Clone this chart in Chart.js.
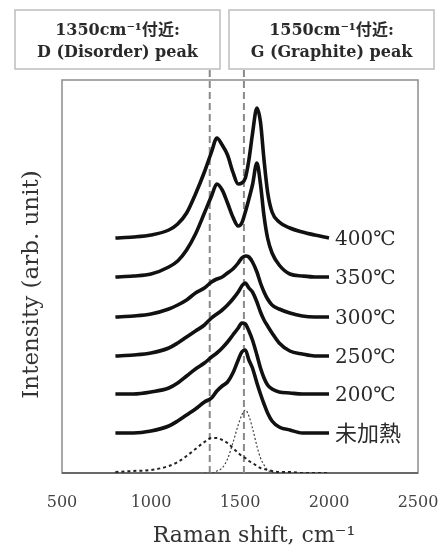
<!DOCTYPE html>
<html>
<head>
<meta charset="utf-8">
<script src="https://cdn.jsdelivr.net/npm/chart.js@4/dist/chart.umd.min.js"></script>
<style>
html,body{margin:0;padding:0;background:#fff;}
#wrap{width:448px;height:549px;}
</style>
</head>
<body>
<div id="wrap"><canvas id="c" width="448" height="549"></canvas></div>
<script>
// Raman shift (cm-1) sample positions
const ramanShift = [800, 900, 1000, 1100, 1150, 1200, 1250, 1300, 1340, 1370, 1400, 1430, 1460, 1490, 1510, 1530, 1550, 1570, 1595, 1615, 1635, 1655, 1680, 1720, 1780, 1850, 1920, 2000];
// Intensities (arb. unit, offset traces)
const t400 = [235, 236, 238, 243, 249, 260, 279, 301, 321, 335, 328, 318, 301, 289, 290, 295, 313, 339, 365, 351, 313, 281, 261, 251, 245, 241, 238, 235];
const t350 = [196, 197, 199, 206, 212, 223, 239, 260, 277, 289, 283, 270, 256, 247, 250, 261, 274, 288, 310, 289, 257, 235, 220, 208, 199, 197, 196, 196];
const t300 = [156, 157, 159, 164, 168, 173, 180, 185, 191, 194, 196, 200, 204, 210, 215, 217, 216, 211, 201, 190, 181, 174, 168, 164, 160, 157, 156, 156];
const t250 = [117, 118, 120, 125, 130, 136, 142, 148, 155, 159, 163, 168, 174, 181, 187, 190, 185, 181, 171, 161, 153, 147, 140, 130, 122, 119, 117, 117];
const t200 = [79, 79, 81, 85, 90, 97, 104, 110, 116, 120, 125, 131, 138, 145, 150, 149, 142, 133, 118, 105, 95, 88, 84, 81, 80, 79, 79, 79];
const tRaw = [40, 40, 42, 47, 52, 58, 64, 71, 75, 82, 87, 91, 100, 113, 121, 123, 113, 105, 90, 79, 69, 60, 52, 46, 43, 40, 40, 40];
// Fitted components of the unheated spectrum
const fitD = [1, 2, 3, 7, 11, 17, 24, 31, 35, 35, 33, 30, 25, 20, 17, 15, 12, 10, 7, 5, 4, 3, 2, 1, 1, 0, 0, 0];
const fitG = [null, null, null, null, null, null, null, 0, 0, 2, 5, 14, 30, 48, 58, 63, 57, 45, 27, 15, 8, 3, 1, 0, null, null, null, null];
const traceLabels = ['400℃', '350℃', '300℃', '250℃', '200℃', '未加熱'];
const xTicks = [500, 1000, 1500, 2000, 2500];
const peakMarks = [1330, 1522];
const peakMarkRange = [0, 403];
const boxTexts = [['1350cm⁻¹付近:', 'D (Disorder) peak'], ['1550cm⁻¹付近:', 'G (Graphite) peak']];
const xTitle = 'Raman shift, cm⁻¹';
const yTitle = 'Intensity (arb. unit)';

const SERIF = '"DejaVu Serif", "Liberation Serif", "Noto Sans CJK JP", serif';
const toXY = arr => ramanShift.map((x, i) => ({x, y: arr[i]}));
const traces = [t400, t350, t300, t250, t200, tRaw];

const datasets = traces.map((t, i) => ({
  label: traceLabels[i], data: toXY(t), borderColor: '#111', borderWidth: 3.6,
  pointRadius: 0, cubicInterpolationMode: 'monotone', fill: false, order: 1
}));
datasets.push({label: 'D fit', data: toXY(fitD), borderColor: '#222', borderWidth: 2, borderDash: [3, 3], pointRadius: 0, cubicInterpolationMode: 'monotone', order: 2});
datasets.push({label: 'G fit', data: toXY(fitG), borderColor: '#444', borderWidth: 1.2, borderDash: [2, 2], pointRadius: 0, cubicInterpolationMode: 'monotone', spanGaps: false, order: 2});
peakMarks.forEach((p, i) => {
  datasets.push({label: 'mark' + i, data: peakMarkRange.map(v => ({x: p, y: v})), borderColor: '#8a8a8a', borderWidth: 2, borderDash: [7, 4], pointRadius: 0, clip: false, order: 5});
});

const deco = {
  id: 'deco',
  beforeDatasetsDraw(chart) {
    const {ctx, chartArea: a} = chart;
    ctx.save();
    ctx.strokeStyle = '#8c8c8c';
    ctx.lineWidth = 1.5;
    ctx.strokeRect(a.left, a.top, a.right - a.left, a.bottom - a.top);
    ctx.strokeStyle = '#555';
    ctx.beginPath(); ctx.moveTo(a.left, a.bottom); ctx.lineTo(a.right, a.bottom); ctx.stroke();
    ctx.restore();
  },
  afterDatasetsDraw(chart) {
    const {ctx, chartArea: a, scales: {x, y}} = chart;
    ctx.save();
    // trace labels
    ctx.fillStyle = '#2a2a2a';
    ctx.textAlign = 'left';
    ctx.textBaseline = 'middle';
    traces.forEach((t, i) => {
      const px = x.getPixelForValue(ramanShift[ramanShift.length - 1]) + 6;
      const py = y.getPixelForValue(t[t.length - 1]) + 2;
      ctx.font = (/^\d/.test(traceLabels[i]) ? '20px ' : '22px ') + SERIF;
      ctx.fillText(traceLabels[i], px, py);
    });
    // annotation boxes
    const boxes = [[15, 220], [229, 434]];
    boxes.forEach((b, i) => {
      ctx.fillStyle = '#fff';
      ctx.fillRect(b[0], 10, b[1] - b[0], 59);
      ctx.strokeStyle = '#bdbdbd';
      ctx.lineWidth = 1.5;
      ctx.strokeRect(b[0], 10, b[1] - b[0], 59);
      ctx.fillStyle = '#2a2a2a';
      ctx.font = 'bold 16px ' + SERIF;
      ctx.textAlign = 'center';
      ctx.textBaseline = 'middle';
      const cx = (b[0] + b[1]) / 2;
      ctx.fillText(boxTexts[i][0], cx, 31);
      ctx.fillText(boxTexts[i][1], cx, 53);
    });
    // axis titles
    ctx.fillStyle = '#333';
    ctx.textAlign = 'center';
    ctx.textBaseline = 'middle';
    ctx.font = '22px ' + SERIF;
    ctx.fillText(xTitle, (a.left + a.right) / 2 + 14, 536);
    ctx.font = '23px ' + SERIF;
    ctx.translate(32, (a.top + a.bottom) / 2 + 8);
    ctx.rotate(-Math.PI / 2);
    ctx.fillText(yTitle, 0, 0);
    ctx.restore();
  }
};

new Chart(document.getElementById('c'), {
  type: 'line',
  data: {datasets},
  options: {
    responsive: false,
    animation: false,
    events: [],
    layout: {padding: {left: 62, right: 30, top: 80, bottom: 0}},
    plugins: {legend: {display: false}, tooltip: {enabled: false}},
    scales: {
      x: {
        type: 'linear', min: 500, max: 2500,
        afterBuildTicks: s => { s.ticks = xTicks.map(v => ({value: v})); },
        afterFit: s => { s.height = 76; s.paddingLeft = 0; s.paddingRight = 0; },
        grid: {display: false, drawTicks: false},
        border: {display: false},
        ticks: {color: '#444', padding: 20, font: {family: SERIF, size: 16}, maxRotation: 0, autoSkip: false, callback: v => String(v)}
      },
      y: {display: false, min: 0, max: 393}
    }
  },
  plugins: [deco]
});
</script>
</body>
</html>
